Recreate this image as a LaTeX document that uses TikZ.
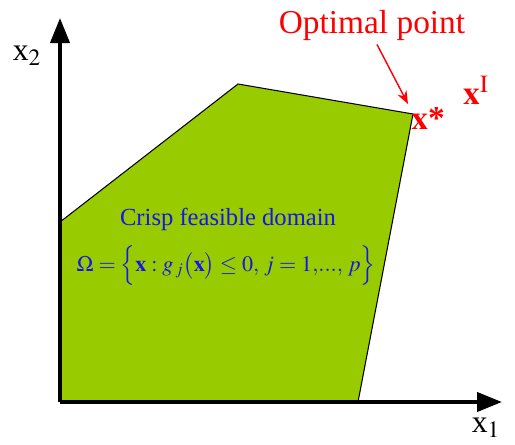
\documentclass[tikz,border=0pt]{standalone}
\usepackage{mathptmx}
\usepackage{fontspec}
\setmainfont{Liberation Serif}
\usetikzlibrary{arrows.meta,positioning}
\definecolor{feasGreen}{RGB}{153,204,0}
\definecolor{optRed}{RGB}{255,0,0}
\definecolor{domBlue}{RGB}{20,20,235}
\tikzset{
    every node/.append style={align=center,inner sep=0pt},
    axis/.style={-{Triangle[length=0.5cm,width=0.38cm]},line width=2.3pt},
    region/.style={draw=black,line width=0.6pt,fill=feasGreen},
    ptr/.style={-{Stealth[length=2.6mm,width=2mm]},draw=optRed,line width=0.8pt},
    axlbl/.style={font=\fontsize{18}{22}\selectfont},
    redlbl/.style={text=optRed,font=\fontsize{19}{23}\selectfont},
    bluelbl/.style={text=domBlue,font=\fontsize{14}{17}\selectfont},
    mathlbl/.style={text=domBlue,font=\fontsize{12.6}{15}\selectfont}
}
\begin{document}
\begin{tikzpicture}[x=0.02cm,y=-0.02cm]
    \useasboundingbox (0,0) rectangle (515,444);
    \coordinate (o)    at (60,402);
    \coordinate (x1e)  at (502,402);
    \coordinate (x2e)  at (60,18);
    \coordinate (pa)   at (60,222);
    \coordinate (pb)   at (238,84);
    \coordinate (pc)   at (413,114);
    \coordinate (pd)   at (358,402);

    \fill[feasGreen] (o) -- (pa) -- (pb) -- (pc) -- (pd) -- cycle;
    \draw[line width=0.6pt] (pa) -- (pb) -- (pc) -- (pd);

    \draw[axis] (o) -- (x1e);
    \draw[axis] (o) -- (x2e);

    \node[axlbl] (x1lbl) at (486,428) {x$_1$};
    \node[axlbl] (x2lbl) at (27,56)  {x$_2$};

    \node[redlbl] (opt)   at (372,25) {Optimal point};
    \node[redlbl] (xstar) at (428,118) {$\mathbf{x}$\textbf{*}};
    \node[redlbl] (xI)    at (476,90)  {$\mathbf{x}^{\mathrm{I}}$};
    \coordinate (optend) at (408,104);
    \draw[ptr] (opt.south -| 377,0) ++(0,4) coordinate (optstart) -- (optend);

    \node[bluelbl] (dom)  at (228,219) {Crisp feasible domain};
    \node[mathlbl] (omg)  at (226,266)
        {$\Omega=\Bigl\{\mathbf{x}:g_{\,j}\bigl(\mathbf{x}\bigr)\le 0,\,j=1,\!...,\,p\Bigr\}$};
\end{tikzpicture}
\end{document}
